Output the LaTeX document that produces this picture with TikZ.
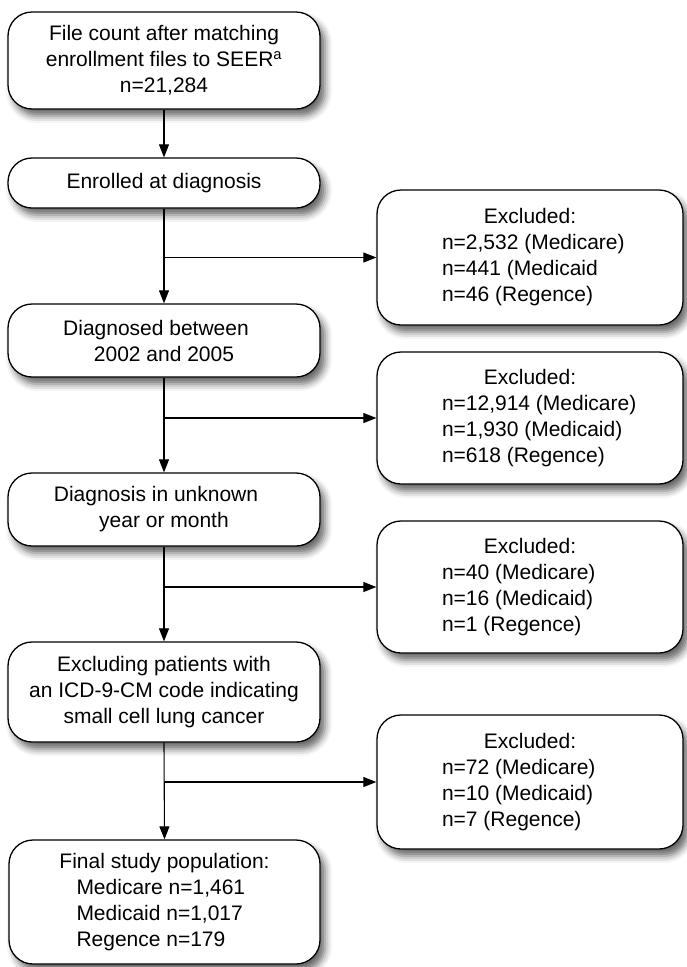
\documentclass[tikz,border=0pt]{standalone}
\usepackage{fontspec}
\setmainfont{Liberation Sans}
\usetikzlibrary{arrows.meta,shadows.blur}
\newcommand\exlines[4]{\begin{tabular}{@{}l@{}}\makebox[176pt][c]{#1}\\\makebox[176pt][l]{#2}\\\makebox[176pt][l]{#3}\\\makebox[176pt][l]{#4}\end{tabular}}
\tikzset{
  box/.style={draw, line width=1.3pt, rounded corners=24pt, fill=white,
    minimum width=312pt, align=center, inner sep=0pt,
    font=\fontsize{21}{26}\selectfont,
    blur shadow={shadow xshift=5pt, shadow yshift=-7pt, shadow blur radius=7pt, shadow opacity=60}},
  exbox/.style={box, minimum width=306pt},
  arr/.style={line width=1.1pt, -{Triangle[length=13pt,width=10pt]}}
}
\begin{document}
\begin{tikzpicture}[x=1pt,y=-1pt]
\useasboundingbox (0,0) rectangle (686,967);
% main column
\node[box, minimum height=97pt] (b1) at (164,60.5) {File count after matching\\enrollment files to SEER\textsuperscript{a}\\n=21,284};
\node[box, minimum height=50pt] (b2) at (164,183) {Enrolled at diagnosis};
\node[box, minimum height=73pt] (b3) at (164,340.5) {Diagnosed between\hspace*{16pt}\\2002 and 2005};
\node[box, minimum height=73pt] (b4) at (164,509.5) {Diagnosis in unknown\hspace*{16pt}\\year or month};
\node[box, minimum height=100pt] (b5) at (164,692) {Excluding patients with\\an ICD-9-CM code indicating\\small cell lung cancer};
\node[box, minimum height=124pt, minimum width=311pt] (b6) at (164.5,902) {\exlines{Final study population:}{Medicare n=1,461}{Medicaid n=1,017}{Regence n=179}};
% excluded column
\node[exbox, minimum height=135pt] (e1) at (530,257.5) {\exlines{Excluded:}{n=2,532 (Medicare)}{n=441 (Medicaid}{n=46 (Regence)}};
\node[exbox, minimum height=132pt] (e2) at (530,418) {\exlines{Excluded:}{n=12,914 (Medicare)}{n=1,930 (Medicaid)}{n=618 (Regence)}};
\node[exbox, minimum height=132pt] (e3) at (530,587) {\exlines{Excluded:}{n=40 (Medicare)}{n=16 (Medicaid)}{n=1 (Regence)}};
\node[exbox, minimum height=134pt] (e4) at (530,782) {\exlines{Excluded:}{n=72 (Medicare)}{n=10 (Medicaid)}{n=7 (Regence)}};
% connectors
\draw[arr] (b1.south) -- (b2.north);
\draw[arr] (b2.south) -- (b3.north);
\draw[arr] (b3.south) -- (b4.north);
\draw[arr] (b4.south) -- (b5.north);
\draw[arr] (b5.south) -- (b6.north);
\draw[arr] (b2.south |- e1.west) -- (e1.west);
\draw[arr] (b3.south |- e2.west) -- (e2.west);
\draw[arr] (b4.south |- e3.west) -- (e3.west);
\draw[arr] (b5.south |- e4.west) -- (e4.west);
\end{tikzpicture}
\end{document}
